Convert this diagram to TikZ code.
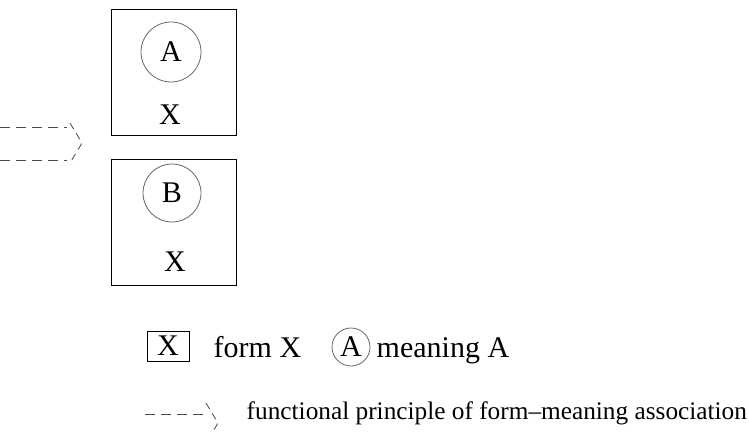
\documentclass[tikz,border=0pt]{standalone}
\usepackage{fontspec}
\setmainfont{Liberation Serif}
\usetikzlibrary{positioning}

\begin{document}
\begin{tikzpicture}[x=1pt, y=-1pt, line width=0.8pt,
      frame/.style={draw, rectangle, minimum width=125pt, minimum height=126pt},
      meaning/.style={draw=black!60, circle, inner sep=0pt, minimum size=60pt},
      lbl/.style={font=\fontsize{30}{34}\selectfont},
      assoc/.style={draw=black!70, dash pattern=on 10pt off 6pt},
      tip/.style={draw=black!70, dash pattern=on 7pt off 5pt}]
    \useasboundingbox (0,0) rectangle (749,433);
    \clip (0,0) rectangle (749,433);

    % the two form-meaning pairs
    \node[frame] (boxA) at (173.5,72) {};
    \node[meaning, lbl] (mA) at (171,52) {A};
    \node[lbl] (fA) at (170,115) {X};

    \node[frame] (boxB) at (173.5,222.5) {};
    \node[meaning, lbl, minimum size=58pt] (mB) at (172,193) {B};
    \node[lbl] (fB) at (175,262) {X};

    % association arrow on the left
    \coordinate (a1) at (0,127);
    \coordinate (a2) at (67,127);
    \coordinate (b1) at (0,160);
    \coordinate (b2) at (67,160);
    \coordinate (t1) at (70,123);
    \coordinate (t2) at (82,143);
    \coordinate (t3) at (70,163);
    \draw[assoc] (a1) -- (a2);
    \draw[assoc] (b1) -- (b2);
    \draw[tip] (t1) -- (t2) -- (t3);

    % legend
    \node[draw, rectangle, minimum width=42pt, minimum height=30pt, lbl] (keyX) at (168,346) {X};
    \node[lbl, anchor=base west] (formX) at (210,357) {form X};
    \node[meaning, lbl, minimum size=38pt] (keyA) at (351,347) {A};
    \node[lbl, anchor=base west] (meanA) at (373,357) {meaning A};

    \coordinate (l1) at (145,414);
    \coordinate (l2) at (203,414);
    \coordinate (u1) at (206,403);
    \coordinate (u2) at (218,423);
    \coordinate (u3) at (206,443);
    \draw[assoc] (l1) -- (l2);
    \draw[tip] (u1) -- (u2) -- (u3);
    \node[anchor=west, font=\fontsize{25.3}{30}\selectfont] (fp) at (243,413)
      {functional principle of form--meaning association};
\end{tikzpicture}
\end{document}
